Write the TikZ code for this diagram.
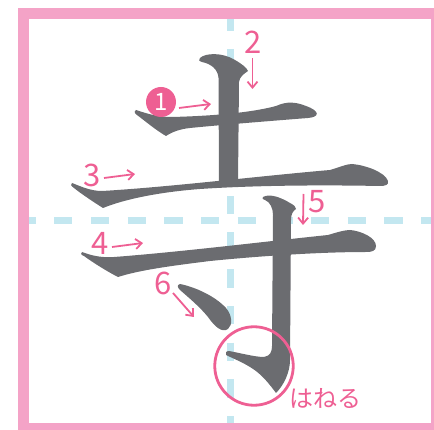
\documentclass[tikz,border=0pt]{standalone}
\usepackage{fontspec}
\newfontfamily\jpfont{Noto Sans CJK JP}
\usetikzlibrary{arrows.meta}
\definecolor{framepink}{HTML}{F4A3C7}
\definecolor{markpink}{HTML}{EE5F93}
\definecolor{guideblue}{HTML}{C3E7F0}
\definecolor{inkgray}{HTML}{6B6C70}
\begin{document}
\begin{tikzpicture}[x=1pt, y=-1pt,
  brush/.style = {fill=inkgray},
  guide/.style = {guideblue, line width=7pt, dash pattern=on 18.35pt off 18.35pt},
  num/.style = {markpink, font=\jpfont\fontsize{31}{31}\selectfont, inner sep=0, anchor=base},
  arr/.style = {markpink, line width=1.8pt, -{Straight Barb[length=6pt,width=10pt]}}]
\useasboundingbox (0,0) rectangle (434,430);
\clip (0,0) rectangle (434,430);
% frame and guide lines
\draw[framepink, line width=11pt] (23.5,13.5) rectangle (436.5,428.2);
\draw[guide, dash phase=11.6pt] (29,221) -- (431,221);
\draw[guide, dash phase=6.7pt] (230.5,19) -- (230.5,422.7);
% stroke 1
\fill[brush] (136,110) .. controls (148,114) and (158,117) .. (172,117)
  .. controls (210,116) and (250,113) .. (276,106)
  .. controls (287,101) and (296,102) .. (306,106)
  .. controls (320,111) and (320,117) .. (308,118)
  .. controls (270,121) and (220,125) .. (190,128)
  .. controls (180,129) and (172,132) .. (166,136)
  .. controls (157,131) and (145,121) .. (137,115)
  .. controls (134,113) and (134,110) .. cycle;
% stroke 2
\fill[brush] (200,58) .. controls (205,53) and (222,52) .. (235,60)
  .. controls (242,64) and (247,68) .. (248,71)
  .. controls (244,74) and (240,76) .. (239,82)
  -- (238,182) -- (219,182) -- (218.5,78)
  .. controls (218,70) and (212,64) .. (202,62)
  .. controls (199,61) and (198,60) .. cycle;
% stroke 3
\fill[brush] (72,183) .. controls (80,186) and (90,191) .. (102,191)
  .. controls (170,187) and (260,176) .. (330,170)
  .. controls (340,167) and (347,164) .. (352,164)
  .. controls (365,165) and (385,172) .. (388,181)
  .. controls (389,185) and (385,186) .. (380,186)
  .. controls (330,185) and (260,185) .. (200,189)
  .. controls (160,192) and (125,199) .. (103,208)
  .. controls (95,203) and (80,193) .. (74,188)
  .. controls (71,186) and (70,184) .. cycle;
% stroke 4
\fill[brush] (82,252) .. controls (90,255) and (100,258) .. (114,257)
  .. controls (180,252) and (270,241) .. (328,235)
  .. controls (338,232) and (345,230) .. (350,230)
  .. controls (362,231) and (376,238) .. (376,246)
  .. controls (376,251) and (372,252) .. (366,252)
  .. controls (320,252) and (260,256) .. (210,261)
  .. controls (170,266) and (140,270) .. (118,277)
  .. controls (108,272) and (92,262) .. (84,256)
  .. controls (81,255) and (80,253) .. cycle;
% stroke 5
\fill[brush] (263,197) .. controls (270,193) and (282,198) .. (290,203)
  .. controls (294,205) and (296,207) .. (296,209)
  .. controls (293,211) and (291,214) .. (291,220)
  -- (290,360)
  .. controls (290,372) and (284,385) .. (276,393)
  .. controls (270,385) and (262,374) .. (250,367)
  .. controls (242,362) and (232,358) .. (226,355)
  .. controls (225,353) and (226,351) .. (229,351)
  .. controls (240,353) and (255,357) .. (264,357)
  .. controls (270,356) and (272,352) .. (272,346)
  -- (273,215)
  .. controls (273,208) and (270,202) .. (265,200)
  .. controls (262,199) and (262,198) .. cycle;
% stroke 6
\fill[brush] (180,284) .. controls (195,287) and (215,296) .. (226,308)
  .. controls (232,315) and (233,325) .. (228,329)
  .. controls (222,333) and (215,327) .. (208,317)
  .. controls (200,307) and (188,297) .. (180,290)
  .. controls (177,287) and (177,285) .. cycle;
% order labels
\node[circle, fill=markpink, text=white, font=\jpfont\fontsize{24}{24}\selectfont, minimum size=30pt, inner sep=0] (n1) at (161,102) {1};
\node[num] (n2) at (252.8,53.3) {2};
\node[num] (n3) at (92.5,186.7) {3};
\node[num] (n4) at (100,255) {4};
\node[num] (n5) at (317,213) {5};
\node[num] (n6) at (163,295) {6};
\node[draw=markpink, line width=2.8pt, circle, minimum size=78.5pt, inner sep=0] (hane) at (254,366) {};
\node[markpink, font=\jpfont\fontsize{24}{24}\selectfont, inner sep=0, anchor=base] (hanetext) at (325,407) {はねる};
% arrows
\coordinate (s1) at (179,108); \coordinate (e1) at (211,104);
\coordinate (s2) at (252.5,58); \coordinate (e2) at (252.5,89);
\coordinate (s3) at (104,178); \coordinate (e3) at (135,174);
\coordinate (s4) at (112,247); \coordinate (e4) at (143,243);
\coordinate (s5) at (303.5,194); \coordinate (e5) at (303,225);
\coordinate (s6) at (173,293); \coordinate (e6) at (194,317);
\foreach \i in {1,...,6}
  \draw[arr] (s\i) -- (e\i);
\end{tikzpicture}
\end{document}
